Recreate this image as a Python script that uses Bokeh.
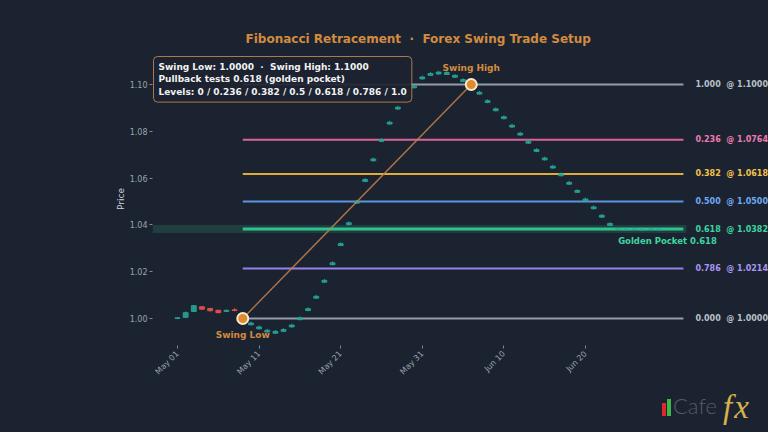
import math
import datetime as dt
from bokeh.plotting import figure
from bokeh.layouts import column
from bokeh.models import (Label, BoxAnnotation, FixedTicker, DatetimeTickFormatter,
                          NumeralTickFormatter, Range1d, Div)
from bokeh.embed import file_html
from bokeh.resources import INLINE

# ---------------- data ----------------
start = dt.datetime(2024, 5, 1)
n_days = 60
dates = [start + dt.timedelta(days=i) for i in range(n_days)]

opens = [1.0000, 1.0005, 1.0030, 1.0050, 1.0043, 1.0035, 1.0030, 1.0037, 1.0004,
         0.9973, 0.9956, 0.9942, 0.9937, 0.9945, 0.9964, 0.9995, 1.0034, 1.0087, 1.0155,
         1.0230, 1.0312, 1.0401, 1.0493, 1.0586, 1.0674, 1.0757, 1.0831, 1.0895, 1.0946,
         1.0986, 1.1024, 1.1039, 1.1045, 1.1043, 1.1031, 1.1013, 1.0996, 1.0959, 1.0923,
         1.0888, 1.0854, 1.0818, 1.0784, 1.0749, 1.0714, 1.0678, 1.0643, 1.0610, 1.0574,
         1.0539, 1.0503, 1.0469, 1.0433, 1.0398, 1.0381, 1.0379, 1.0380, 1.0378, 1.0381, 1.0379]
closes = [1.0003, 1.0025, 1.0055, 1.0040, 1.0033, 1.0025, 1.0035, 1.0034, 1.0010,
          0.9981, 0.9964, 0.9950, 0.9945, 0.9953, 0.9972, 1.0003, 1.0042, 1.0095, 1.0163,
          1.0238, 1.0320, 1.0409, 1.0501, 1.0594, 1.0682, 1.0765, 1.0839, 1.0903, 1.0954,
          1.0994, 1.1032, 1.1047, 1.1053, 1.1051, 1.1039, 1.1021, 1.1004, 1.0967, 1.0931,
          1.0896, 1.0862, 1.0826, 1.0792, 1.0757, 1.0722, 1.0686, 1.0651, 1.0618, 1.0582,
          1.0547, 1.0511, 1.0477, 1.0441, 1.0406, 1.0384, 1.0382, 1.0383, 1.0381, 1.0384, 1.0382]
highs = [1.0006, 1.0030, 1.0058, 1.0052, 1.0045, 1.0037, 1.0038, 1.0045, 1.0014,
         0.9987, 0.9970, 0.9956, 0.9951, 0.9959, 0.9978, 1.0009, 1.0048, 1.0101, 1.0169,
         1.0244, 1.0326, 1.0415, 1.0507, 1.0600, 1.0688, 1.0771, 1.0845, 1.0909, 1.0960,
         1.1000, 1.1038, 1.1053, 1.1059, 1.1057, 1.1045, 1.1027, 1.1010, 1.0973, 1.0937,
         1.0902, 1.0868, 1.0832, 1.0798, 1.0763, 1.0728, 1.0692, 1.0657, 1.0624, 1.0588,
         1.0553, 1.0517, 1.0483, 1.0447, 1.0412, 1.0386, 1.0384, 1.0385, 1.0383, 1.0386, 1.0384]
lows = [0.9997, 1.0002, 1.0027, 1.0037, 1.0030, 1.0022, 1.0027, 1.0031, 1.0000,
        0.9970, 0.9953, 0.9939, 0.9934, 0.9942, 0.9961, 0.9992, 1.0031, 1.0084, 1.0152,
        1.0227, 1.0309, 1.0398, 1.0490, 1.0583, 1.0671, 1.0754, 1.0828, 1.0892, 1.0943,
        1.0983, 1.1021, 1.1036, 1.1042, 1.1040, 1.1028, 1.1010, 1.0993, 1.0956, 1.0920,
        1.0885, 1.0851, 1.0815, 1.0781, 1.0746, 1.0711, 1.0675, 1.0640, 1.0607, 1.0571,
        1.0536, 1.0500, 1.0466, 1.0430, 1.0395, 1.0379, 1.0377, 1.0378, 1.0376, 1.0379, 1.0377]

swing_low_idx = 8
swing_high_idx = 36
swing_low = 1.0000
swing_high = 1.1000

fib_ratios = ["1.000", "0.236", "0.382", "0.500", "0.618", "0.786", "0.000"]
fib_prices = [1.1000, 1.0764, 1.0618, 1.0500, 1.0382, 1.0214, 1.0000]
fib_colors = ["#9aa3ae", "#e8659f", "#e9b43c", "#5d9be8", "#2fcb92", "#9c88f0", "#9aa3ae"]
fib_label_colors = ["#b9c0ca", "#f07aae", "#f3c24a", "#70a8f2", "#3dd6a0", "#a996f5", "#b9c0ca"]
fib_widths = [2, 2, 2, 2, 3, 2, 2]
pocket_top = 1.0400
pocket_bottom = 1.0365

tick_dates = [dt.datetime(2024, 5, 1), dt.datetime(2024, 5, 11), dt.datetime(2024, 5, 21),
              dt.datetime(2024, 5, 31), dt.datetime(2024, 6, 10), dt.datetime(2024, 6, 20)]
y_ticks = [1.00, 1.02, 1.04, 1.06, 1.08, 1.10]

# ---------------- geometry ----------------
BG = "#1c2330"
W, H, H_LOGO = 768, 390, 42
FL, FR, FT, FB = 152, 768, 52, 345
DAY = 86400000.0
PXDAY = 8.16
PXUNIT = 2340.0
epoch = dt.datetime(1970, 1, 1)
def ms(d):
    return (d - epoch).total_seconds() * 1000.0

x0 = ms(start) - (177 - FL) / PXDAY * DAY
x1 = x0 + (FR - FL) / PXDAY * DAY
y1 = 1.10 + (84 - FT) / PXUNIT
y0 = y1 - (FB - FT) / PXUNIT

def px(cx):
    return x0 + (cx - FL) / (FR - FL) * (x1 - x0)
def py(cy):
    return y1 - (cy - FT) / (FB - FT) * (y1 - y0)

p = figure(width=W, height=H, x_axis_type="datetime",
           x_range=Range1d(x0, x1), y_range=Range1d(y0, y1),
           output_backend="svg", toolbar_location=None,
           min_border_left=FL, min_border_right=W - FR, min_border_top=FT, min_border_bottom=H - FB,
           background_fill_color=BG, border_fill_color=BG, margin=(0, 0, 0, 0))
p.outline_line_color = None

NB = "\u00a0"
p.title.text = f"Fibonacci Retracement {NB}\u00b7{NB} Forex Swing Trade Setup"
p.title.text_color = "#d38b3f"
p.title.text_font = "DejaVu Sans"
p.title.text_font_style = "bold"
p.title.text_font_size = "12px"
p.title.align = "left"
p.title.offset = 93
p.title.standoff = 13

p.xgrid.visible = False
p.ygrid.visible = False
for ax in (p.xaxis[0], p.yaxis[0]):
    ax.axis_line_color = None
    ax.major_tick_line_color = "#7d8794"
    ax.major_tick_in = 0
    ax.major_tick_out = 3
    ax.minor_tick_line_color = None
    ax.major_label_text_color = "#9aa3af"
    ax.major_label_text_font = "DejaVu Sans"
    ax.major_label_text_font_size = "8px"

p.yaxis.ticker = FixedTicker(ticks=y_ticks)
p.yaxis.formatter = NumeralTickFormatter(format="0.00")
p.yaxis.major_label_standoff = 2
p.yaxis.axis_label = "Price"
p.yaxis.axis_label_text_font = "DejaVu Sans"
p.yaxis.axis_label_text_font_style = "normal"
p.yaxis.axis_label_text_font_size = "9px"
p.yaxis.axis_label_text_color = "#d0d5dc"
p.yaxis.axis_label_standoff = 1

p.xaxis.ticker = FixedTicker(ticks=[ms(d) for d in tick_dates])
fmt = "%b %d"
p.xaxis.formatter = DatetimeTickFormatter(days=fmt, months=fmt, hours=fmt, years=fmt, minutes=fmt)
p.xaxis.major_label_orientation = math.pi / 4
p.xaxis.major_label_standoff = 4

# golden pocket band
p.add_layout(BoxAnnotation(bottom=pocket_bottom, top=pocket_top, right=px(686),
                           fill_color="#2fcb92", fill_alpha=0.16, line_color=None))

# fib lines
line_end = ms(start) + 62 * DAY
line_start = ms(dates[swing_low_idx])
p.segment(x0=[line_start] * len(fib_prices), y0=fib_prices, x1=[line_end] * len(fib_prices),
          y1=fib_prices, line_color=fib_colors, line_width=fib_widths, line_alpha=0.95)

for r, pr, c in zip(fib_ratios, fib_prices, fib_label_colors):
    p.add_layout(Label(x=line_end, y=pr, x_offset=12, text=f"{r}{NB} @ {pr:.4f}",
                       text_color=c, text_font="DejaVu Sans", text_font_style="bold",
                       text_font_size="8px", text_baseline="middle", text_align="left"))

# candles
xs = [ms(d) for d in dates]
inc_color, dec_color = "#26a69a", "#ef5350"
colors = [inc_color if c >= o else dec_color for o, c in zip(opens, closes)]
tops = [max(o, c) for o, c in zip(opens, closes)]
bots = [min(o, c) for o, c in zip(opens, closes)]
p.segment(x0=xs, y0=lows, x1=xs, y1=highs, line_color=colors, line_width=1, line_alpha=0.85)
p.vbar(x=xs, width=0.6 * DAY, top=tops, bottom=bots, fill_color=colors, line_color=colors,
       fill_alpha=0.85, line_alpha=0.85)

# swing connection
sx = [ms(dates[swing_low_idx]), ms(dates[swing_high_idx])]
sy = [swing_low, swing_high]
p.line(sx, sy, line_color="#c8804a", line_width=1.5, line_alpha=0.85)
p.scatter(sx, sy, size=11, fill_color="#e08a2e", line_color="#f6ead2", line_width=2)

p.add_layout(Label(x=sx[0], y=swing_low, y_offset=-11, text="Swing Low", text_color="#d38b3f",
                   text_font="DejaVu Sans", text_font_style="bold", text_font_size="9px",
                   text_align="center", text_baseline="top"))
p.add_layout(Label(x=sx[1], y=swing_high, y_offset=12, text="Swing High", text_color="#d38b3f",
                   text_font="DejaVu Sans", text_font_style="bold", text_font_size="9px",
                   text_align="center", text_baseline="bottom"))

gp_x = ms(dates[54])
p.add_layout(Label(x=gp_x, y=fib_prices[4], y_offset=-7, text="Golden Pocket 0.618",
                   text_color="#3dd6a0", text_font="DejaVu Sans", text_font_style="bold",
                   text_font_size="8.5px", text_align="left", text_baseline="top"))

info = (f"Swing Low: 1.0000 {NB}\u00b7{NB} Swing High: 1.1000\n"
        "Pullback tests 0.618 (golden pocket)\n"
        "Levels: 0 / 0.236 / 0.382 / 0.5 / 0.618 / 0.786 / 1.0")
p.add_layout(Label(x=px(FL + 1), y=py(FT + 4), text=info, text_color="#f2f2f2",
                   text_font="DejaVu Sans", text_font_style="bold", text_font_size="9px",
                   text_align="left", text_baseline="top", text_line_height=1.28,
                   background_fill_color=BG, background_fill_alpha=0.92,
                   border_line_color="#c4884f", border_line_alpha=0.85, border_line_width=1,
                   padding=5, border_radius=4))

# logo strip below the chart
logo_html = (
    f'<div style="position:relative;width:{W}px;height:{H_LOGO}px;background:{BG};overflow:hidden;">'
    '<span style="position:absolute;left:662px;top:13px;width:4px;height:13px;background:#e3262c;"></span>'
    '<span style="position:absolute;left:667px;top:9px;width:4px;height:17px;background:#3cb84a;"></span>'
    '<span style="position:absolute;left:673px;top:5px;font-family:Lato;font-weight:300;font-size:22px;'
    'line-height:22px;color:#535b67;">Cafe</span>'
    '<span style="position:absolute;left:723px;top:1px;font-family:\'Liberation Serif\';'
    'font-style:italic;font-size:33px;line-height:33px;letter-spacing:2px;color:#d6b14c;">fx</span>'
    '</div>')
logo = Div(text=logo_html, width=W, height=H_LOGO, margin=(0, 0, 0, 0),
           styles={"background-color": BG})

layout = column(p, logo, spacing=0, margin=(0, 0, 0, 0), styles={"background-color": BG})
open("out.html", "w").write(file_html(layout, INLINE))
